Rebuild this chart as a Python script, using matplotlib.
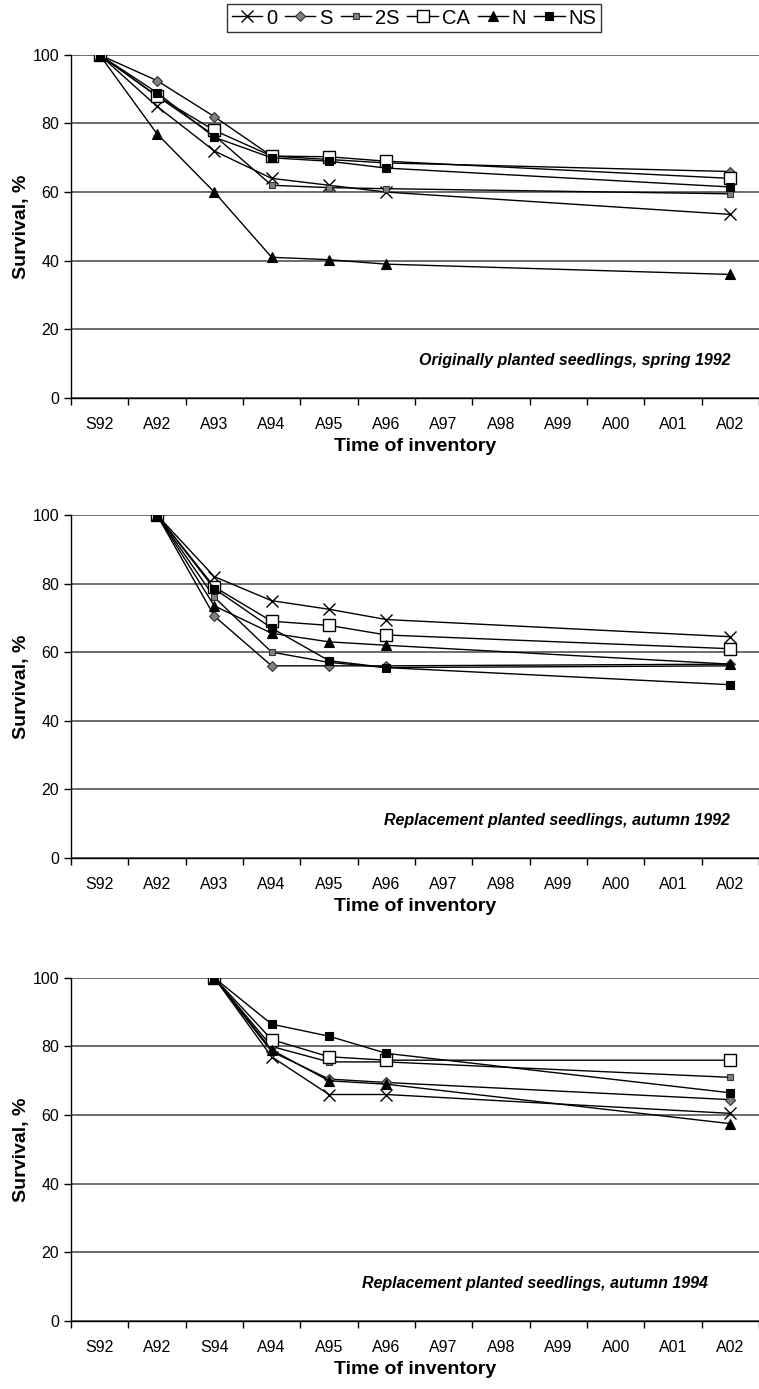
import matplotlib
matplotlib.use("Agg")
import matplotlib.pyplot as plt
import numpy as np

plt.rcParams["font.family"] = ["Liberation Sans", "DejaVu Sans"]

# category labels of the x axis
cats_a = ["S92", "A92", "A93", "A94", "A95", "A96", "A97", "A98", "A99", "A00", "A01", "A02"]
cats_c = ["S92", "A92", "S94", "A94", "A95", "A96", "A97", "A98", "A99", "A00", "A01", "A02"]

series = ["0", "S", "2S", "CA", "N", "NS"]

# panel 1: originally planted, spring 1992
p1_x = ["S92", "A92", "A93", "A94", "A95", "A96", "A02"]
p1_0 = [100, 85, 72, 64, 62, 60, 53.5]
p1_S = [100, 92.5, 82, 70.5, 69.5, 68.5, 66]
p1_2S = [100, 88, 76.5, 62, 61.3, 61, 59.5]
p1_CA = [100, 88, 78, 70.5, 70.3, 69, 64]
p1_N = [100, 77, 60, 41, 40.3, 39, 36]
p1_NS = [100, 89, 76, 70, 69, 67, 61.5]

# panel 2: replacement, autumn 1992
p2_x = ["A92", "A93", "A94", "A95", "A96", "A02"]
p2_0 = [100, 82, 75, 72.5, 69.5, 64.5]
p2_S = [100, 70.5, 56, 56, 56, 56.5]
p2_2S = [100, 76, 60, 57, 55.5, 56]
p2_CA = [100, 79, 69, 67.8, 65, 61]
p2_N = [100, 73.5, 65.5, 63, 62, 56.5]
p2_NS = [100, 78.5, 67, 57.5, 55.5, 50.5]

# panel 3: replacement, autumn 1994
p3_x = ["S94", "A94", "A95", "A96", "A02"]
p3_0 = [100, 77, 66, 66, 60.5]
p3_S = [100, 78.5, 70.5, 69.5, 64.5]
p3_2S = [100, 80, 75.5, 75.5, 71]
p3_CA = [100, 82, 77, 76, 76]
p3_N = [100, 79, 70, 69, 57.5]
p3_NS = [100, 86.5, 83, 78, 66.5]

notes = ["Originally planted seedlings, spring 1992",
         "Replacement planted seedlings, autumn 1992",
         "Replacement planted seedlings, autumn 1994"]
note_x = [11.0, 11.0, 10.6]

styles = {
    "0":  dict(marker="x", ms=9, mfc="black", mec="black", mew=1.0),
    "S":  dict(marker="D", ms=5, mfc="#808080", mec="#333333", mew=0.8),
    "2S": dict(marker="s", ms=5, mfc="#808080", mec="#333333", mew=0.8),
    "CA": dict(marker="s", ms=8, mfc="white", mec="black", mew=1.0),
    "N":  dict(marker="^", ms=7, mfc="black", mec="black", mew=0.8),
    "NS": dict(marker="s", ms=6, mfc="black", mec="black", mew=0.8),
}

panels = [
    (cats_a, p1_x, [p1_0, p1_S, p1_2S, p1_CA, p1_N, p1_NS], 0.7135),
    (cats_a, p2_x, [p2_0, p2_S, p2_2S, p2_CA, p2_N, p2_NS], 0.3823),
    (cats_c, p3_x, [p3_0, p3_S, p3_2S, p3_CA, p3_N, p3_NS], 0.049),
]

fig = plt.figure(figsize=(7.59, 13.89), dpi=100)
handles = []
for k, (cats, xs, ys, bottom) in enumerate(panels):
    ax = fig.add_axes([0.0935, bottom, 0.9065, 0.247])
    xi = [cats.index(c) for c in xs]
    for name, vals in zip(series, ys):
        h, = ax.plot(xi, vals, color="black", lw=1.0, label=name, **styles[name])
        if k == 0:
            handles.append(h)
    ax.set_xlim(-0.5, 11.5)
    ax.set_ylim(0, 100)
    ax.set_yticks([0, 20, 40, 60, 80, 100])
    ax.yaxis.grid(True, color="#606060", lw=1.3)
    ax.set_axisbelow(True)
    ax.set_xticks(np.arange(12))
    ax.set_xticklabels(cats)
    ax.set_xticks(np.arange(-0.5, 12, 1), minor=True)
    ax.tick_params(axis="x", which="major", length=0, pad=14, labelsize=11.5)
    ax.tick_params(axis="x", which="minor", length=5, width=1, direction="out")
    ax.tick_params(axis="y", length=5, width=1, direction="out", labelsize=11.5)
    for s in ["top", "right"]:
        ax.spines[s].set_visible(False)
    for s in ["left", "bottom"]:
        ax.spines[s].set_linewidth(1.0)
    ax.set_xlabel("Time of inventory", fontsize=14, fontweight="bold", labelpad=4)
    ax.set_ylabel("Survival, %", fontsize=14, fontweight="bold", labelpad=2)
    ax.text(note_x[k], 11, notes[k], ha="right", va="center", fontsize=11.5,
            fontweight="bold", fontstyle="italic")

leg = fig.legend(handles=handles, loc="center", bbox_to_anchor=(414 / 759, 1 - 18 / 1389),
                 ncol=6, fontsize=14.5, frameon=True, fancybox=False, handlelength=1.5,
                 handletextpad=0.2, columnspacing=0.4, borderpad=0.2, borderaxespad=0)
leg.get_frame().set_edgecolor("black")
leg.get_frame().set_linewidth(1.0)

fig.savefig("out.png", dpi=100)
